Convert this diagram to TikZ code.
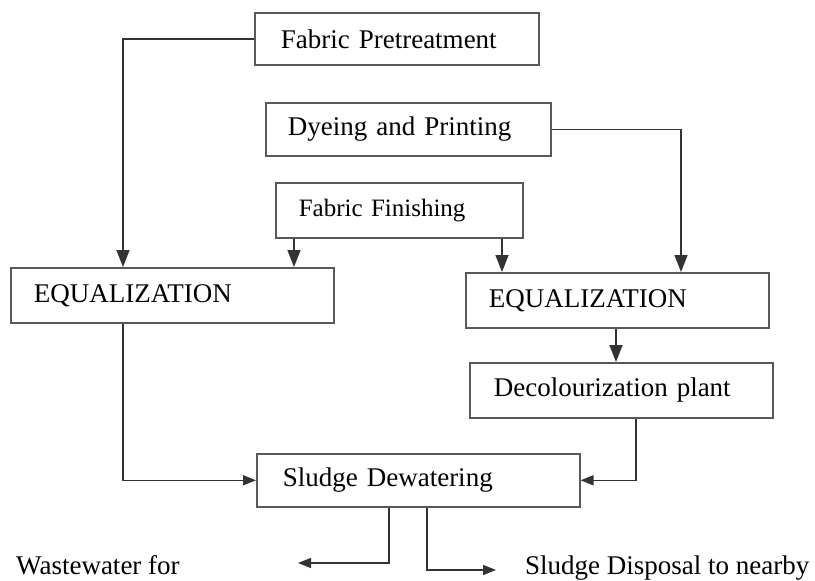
\documentclass[tikz,border=0pt]{standalone}
\usepackage{fontspec}
\setmainfont{Liberation Serif}
\usetikzlibrary{arrows.meta}
\begin{document}
\begin{tikzpicture}[x=1pt,y=-1pt,
  box/.style={draw=black!65,line width=1.6pt,rectangle,align=left,inner ysep=0pt,
    font=\fontsize{27}{30}\selectfont},
  conn/.style={draw=black!80,line width=1.6pt},
  arr/.style={conn,-{Triangle[length=17pt,width=13pt]}},
  sarr/.style={conn,-{Triangle[length=13pt,width=10pt]}},
  lbl/.style={anchor=base west,inner sep=0pt,font=\fontsize{27}{30}\selectfont}]
\useasboundingbox (0,0) rectangle (815,581);
% boxes: (left,top)-(right,bottom), pad = text left inset
\node[box,anchor=north west,minimum width=284pt,minimum height=52pt,text width=232pt,inner xsep=26pt] (pre) at (254,12) {Fabric Pretreatment};
\node[box,anchor=north west,minimum width=285pt,minimum height=53pt,text width=241pt,inner xsep=22pt] (dye) at (265,102) {Dyeing and Printing};
\node[box,anchor=north west,minimum width=247pt,minimum height=55pt,text width=201pt,inner xsep=23pt,font=\fontsize{25}{28}\selectfont] (fin) at (275,182) {Fabric Finishing};
\node[box,anchor=north west,minimum width=323pt,minimum height=55pt,text width=277pt,inner xsep=23pt] (eqL) at (10,267) {EQUALIZATION};
\node[box,anchor=north west,minimum width=303pt,minimum height=55pt,text width=257pt,inner xsep=23pt] (eqR) at (465,272) {EQUALIZATION};
\node[box,anchor=north west,minimum width=303pt,minimum height=55pt,text width=255pt,inner xsep=24pt] (dec) at (469,362) {Decolourization plant};
\node[box,anchor=north west,minimum width=323pt,minimum height=53pt,text width=271pt,inner xsep=26pt] (sl) at (256,453) {Sludge Dewatering};
\node[lbl] (ww) at (16,574) {Wastewater for};
\node[lbl] (sd) at (525,574) {Sludge Disposal to nearby};
% helper coordinates for connector columns
\coordinate (xa) at (123,0);
\coordinate (xb) at (294,0);
\coordinate (xc) at (502,0);
\coordinate (xd) at (681,0);
\coordinate (xe) at (616,0);
\coordinate (xf) at (636,0);
\coordinate (xg) at (389,563);
\coordinate (xh) at (427,570);
\coordinate (wEnd) at (298,563);
\coordinate (sEnd) at (496,570);
% connectors
\draw[arr] (pre.west) -| (eqL.north -| xa);
\draw[arr] (dye.east) -| (eqR.north -| xd);
\draw[arr] (fin.south -| xb) -- (eqL.north -| xb);
\draw[arr] (fin.south -| xc) -- (eqR.north -| xc);
\draw[arr] (eqR.south -| xe) -- (dec.north -| xe);
\draw[sarr] (eqL.south -| xa) |- (sl.west);
\draw[sarr] (dec.south -| xf) |- (sl.east);
\draw[sarr] (sl.south -| xg) |- (wEnd);
\draw[sarr] (sl.south -| xh) |- (sEnd);
\end{tikzpicture}
\end{document}
